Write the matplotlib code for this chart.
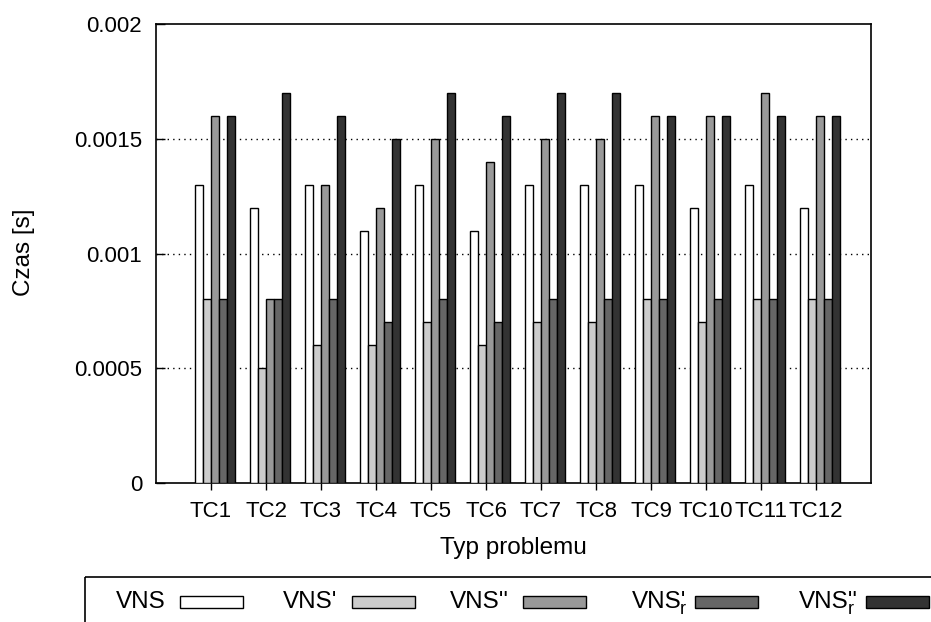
import matplotlib
matplotlib.use("Agg")
import matplotlib.pyplot as plt
from matplotlib.patches import Rectangle
import numpy as np

plt.rcParams["font.family"] = "Liberation Sans"
plt.rcParams["font.size"] = 16

problems = ["TC1", "TC2", "TC3", "TC4", "TC5", "TC6",
            "TC7", "TC8", "TC9", "TC10", "TC11", "TC12"]

vns = [0.0013, 0.0012, 0.0013, 0.0011, 0.0013, 0.0011,
       0.0013, 0.0013, 0.0013, 0.0012, 0.0013, 0.0012]
vns_1 = [0.0008, 0.0005, 0.0006, 0.0006, 0.0007, 0.0006,
         0.0007, 0.0007, 0.0008, 0.0007, 0.0008, 0.0008]
vns_2 = [0.0016, 0.0008, 0.0013, 0.0012, 0.0015, 0.0014,
         0.0015, 0.0015, 0.0016, 0.0016, 0.0017, 0.0016]
vns_1r = [0.0008, 0.0008, 0.0008, 0.0007, 0.0008, 0.0007,
          0.0008, 0.0008, 0.0008, 0.0008, 0.0008, 0.0008]
vns_2r = [0.0016, 0.0017, 0.0016, 0.0015, 0.0017, 0.0016,
          0.0017, 0.0017, 0.0016, 0.0016, 0.0016, 0.0016]

series = [vns, vns_1, vns_2, vns_1r, vns_2r]
names = ["VNS", "VNS'", "VNS''", "VNS'", "VNS''"]
subs = ["", "", "", "r", "r"]
colors = ["#ffffff", "#cccccc", "#999999", "#666666", "#333333"]

yticks = [0, 0.0005, 0.001, 0.0015, 0.002]
ytick_labels = ["0", "0.0005", "0.001", "0.0015", "0.002"]

W, H = 931, 622
fig = plt.figure(figsize=(W / 100, H / 100), dpi=100)
ax = fig.add_axes([156 / W, 1 - 483 / H, 715 / W, 459 / H])

x = np.arange(1, len(problems) + 1)
bw = 1 / 7
for k, (vals, col) in enumerate(zip(series, colors)):
    ax.bar(x + (k - 1.5) * bw, vals, width=bw, color=col,
           edgecolor="black", linewidth=1.0, zorder=3)

for y in yticks[1:-1]:
    ax.axhline(y, color="black", linestyle=(0, (1, 3)), linewidth=1.0, zorder=1)

ax.set_xlim(0, 13)
ax.set_ylim(0, 0.002)
ax.set_xticks(x)
ax.set_xticklabels(problems)
ax.set_yticks(yticks)
ax.set_yticklabels(ytick_labels)
ax.tick_params(axis="y", direction="in", length=6.5, width=1, pad=10, right=False)
ax.tick_params(axis="x", direction="out", length=5, width=1, pad=8, top=False)
for s in ax.spines.values():
    s.set_linewidth(1.2)

fig.text(24 / W, 1 - 252 / H, "Czas [s]", rotation=90, ha="center", va="center",
         fontsize=17.5)
fig.text(513 / W, 1 - 548 / H, "Typ problemu", ha="center", va="center",
         fontsize=17.5)

# key below the plot, drawn in pixel coordinates
lax = fig.add_axes([0, 0, 1, 1])
lax.set_xlim(0, W)
lax.set_ylim(H, 0)
lax.axis("off")
lax.add_patch(Rectangle((85, 577), 900, 100, facecolor="none",
                        edgecolor="black", linewidth=1.2))
for k, (name, sub, col) in enumerate(zip(names, subs, colors)):
    x0 = 180 + k * 171.5
    lax.add_patch(Rectangle((x0, 596), 63, 12, facecolor=col,
                            edgecolor="black", linewidth=1.0))
    if sub:
        # subscript sits under the primes
        lax.text(x0 - 8, 608, name, ha="right", va="baseline", fontsize=17.5)
        shift = 12 if name.endswith("''") else 9
        lax.text(x0 - shift, 614, sub, ha="right", va="baseline", fontsize=13)
    else:
        lax.text(x0 - 14, 608, name, ha="right", va="baseline", fontsize=17.5)

fig.savefig("out.png", dpi=100)
